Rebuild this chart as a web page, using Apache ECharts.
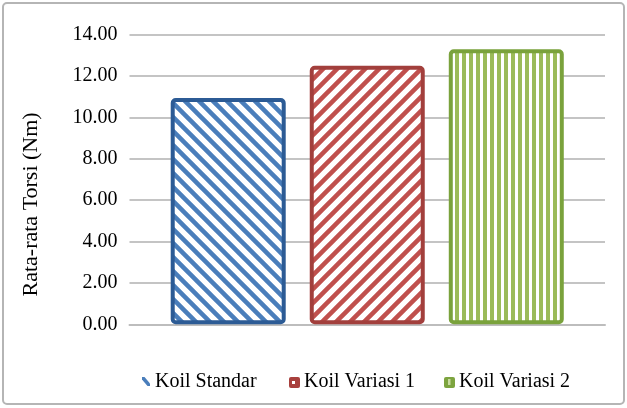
<!DOCTYPE html>
<html>
<head>
<meta charset="utf-8">
<script src="https://cdn.jsdelivr.net/npm/echarts@6/dist/echarts.min.js"></script>
<style>
html,body{margin:0;padding:0;background:#fff;}
#chart{width:627px;height:408px;}
</style>
</head>
<body>
<div id="chart"></div>
<script>
// ---- data ----
const categories = [''];
const seriesNames = ['Koil Standar', 'Koil Variasi 1', 'Koil Variasi 2'];
const valuesStandar = [10.93];
const valuesVariasi1 = [12.49];
const valuesVariasi2 = [13.29];
const yTicks = [0, 2, 4, 6, 8, 10, 12, 14];
const yAxisTitle = 'Rata-rata Torsi (Nm)';

// ---- patterns ----
function diagPattern(color, dir) {
  const n = 14;
  const c = document.createElement('canvas');
  c.width = n; c.height = n;
  const g = c.getContext('2d');
  g.fillStyle = '#fff';
  g.fillRect(0, 0, n, n);
  g.strokeStyle = color;
  g.lineWidth = 4.5;
  g.beginPath();
  for (let k = -1; k <= 1; k++) {
    if (dir === 'back') {
      g.moveTo(k * n - 2, -2); g.lineTo(k * n + n + 2, n + 2);
    } else {
      g.moveTo(k * n - 2, n + 2); g.lineTo(k * n + n + 2, -2);
    }
  }
  g.stroke();
  return c;
}
function vertPattern(color) {
  const c = document.createElement('canvas');
  c.width = 7; c.height = 7;
  const g = c.getContext('2d');
  g.fillStyle = '#fff';
  g.fillRect(0, 0, 7, 7);
  g.fillStyle = color;
  g.fillRect(0, 0, 4, 7);
  return c;
}

const serif = 'Liberation Serif';
const fs = 20;

// legend drawn as graphic elements (serif text)
const legendY = 382;
const legendTextX = [155, 304, 459];
const legendIcons = [
  {type: 'polygon', shape: {points: [[142, 377], [144.5, 377], [150, 383.5], [150, 386], [147.5, 386], [142, 379.5]]}, style: {fill: '#4A7EBB'}},
  {type: 'rect', shape: {x: 289, y: 377, width: 11, height: 11, r: 2}, style: {fill: '#A8403D'}},
  {type: 'rect', shape: {x: 444, y: 377, width: 11, height: 11, r: 2}, style: {fill: '#7DA43F'}}
];
const legendGraphics = [];
seriesNames.forEach((n, i) => {
  legendGraphics.push(Object.assign({silent: true}, legendIcons[i]));
  legendGraphics.push({
    type: 'text', silent: true,
    x: legendTextX[i], y: legendY,
    style: {text: n, fill: '#000', fontSize: fs, fontFamily: serif, verticalAlign: 'middle', align: 'left'}
  });
});
legendGraphics.push({type: 'rect', shape: {x: 292, y: 381, width: 3, height: 3}, style: {fill: '#fff'}, silent: true});
legendGraphics.push({type: 'rect', shape: {x: 448, y: 379, width: 2.5, height: 6}, style: {fill: '#C8DBA0'}, silent: true});

const chart = echarts.init(document.getElementById('chart'), null, {renderer: 'canvas'});
const option = {
  animation: false,
  backgroundColor: '#fff',
  textStyle: {fontFamily: serif},
  grid: {left: 129.5, right: 22, top: 34.5, bottom: 83.7},
  xAxis: {
    type: 'category',
    data: categories,
    axisTick: {show: false},
    axisLabel: {show: false},
    axisLine: {lineStyle: {color: '#BDBDBD', width: 2}}
  },
  yAxis: {
    type: 'value',
    min: yTicks[0],
    max: yTicks[yTicks.length - 1],
    interval: yTicks[1] - yTicks[0],
    axisLine: {show: false},
    axisTick: {show: false},
    splitLine: {lineStyle: {color: '#C4C4C4', width: 2}},
    axisLabel: {
      formatter: v => v.toFixed(2),
      color: '#000',
      fontFamily: serif,
      fontSize: fs,
      margin: 12
    },
    name: yAxisTitle,
    nameLocation: 'middle',
    nameRotate: 90,
    nameGap: 87,
    nameTextStyle: {
      color: '#000',
      fontFamily: serif,
      fontSize: 22,
      padding: [0, 50, 0, 0]
    }
  },
  legend: {show: false, data: seriesNames},
  graphic: [{
    type: 'rect',
    shape: {x: 3, y: 3, width: 621, height: 401, r: 4},
    style: {fill: 'none', stroke: '#B5B5B5', lineWidth: 2},
    silent: true,
    z: 100
  }].concat(legendGraphics),
  series: [
    {
      name: seriesNames[0], type: 'bar', data: valuesStandar,
      barWidth: 115, barGap: '20.9%',
      itemStyle: {color: {image: diagPattern('#4A7EBB', 'back'), repeat: 'repeat'}, borderColor: '#2C5B95', borderWidth: 4, borderRadius: 3}
    },
    {
      name: seriesNames[1], type: 'bar', data: valuesVariasi1,
      barWidth: 115, barGap: '20.9%',
      itemStyle: {color: {image: diagPattern('#C0504D', 'fwd'), repeat: 'repeat'}, borderColor: '#A23F3C', borderWidth: 4, borderRadius: 3}
    },
    {
      name: seriesNames[2], type: 'bar', data: valuesVariasi2,
      barWidth: 115, barGap: '20.9%',
      itemStyle: {color: {image: vertPattern('#9BBB59'), repeat: 'repeat'}, borderColor: '#7AA23C', borderWidth: 4, borderRadius: 3}
    }
  ]
};
chart.setOption(option);
</script>
</body>
</html>
